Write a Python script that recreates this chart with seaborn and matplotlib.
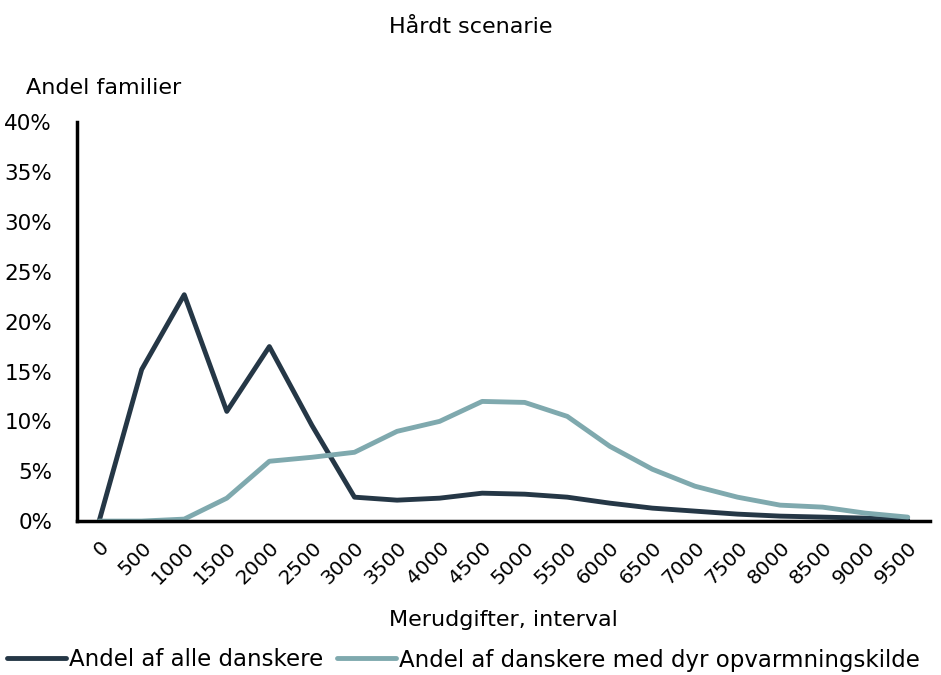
import matplotlib.pyplot as plt
import seaborn as sns
import pandas as pd
from matplotlib.ticker import PercentFormatter

# Merudgifter intervals (kr.)
intervals = [0, 500, 1000, 1500, 2000, 2500, 3000, 3500, 4000, 4500,
             5000, 5500, 6000, 6500, 7000, 7500, 8000, 8500, 9000, 9500]

# Share of families (%)
alle = [0.0, 15.2, 22.7, 11.0, 17.5, 9.6, 2.4, 2.1, 2.3, 2.8,
        2.7, 2.4, 1.8, 1.3, 1.0, 0.7, 0.5, 0.4, 0.3, 0.1]
dyr = [0.0, 0.0, 0.2, 2.3, 6.0, 6.4, 6.9, 9.0, 10.0, 12.0,
       11.9, 10.5, 7.5, 5.2, 3.5, 2.4, 1.6, 1.4, 0.8, 0.4]

label_alle = "Andel af alle danskere"
label_dyr = "Andel af danskere med dyr opvarmningskilde"

df = pd.DataFrame({
    "interval": intervals * 2,
    "andel": alle + dyr,
    "serie": [label_alle] * len(alle) + [label_dyr] * len(dyr),
})

sns.set_theme(style="white")
plt.rcParams['font.family'] = ['DejaVu Sans']
for key in ['text.color', 'axes.labelcolor', 'xtick.color', 'ytick.color']:
    plt.rcParams[key] = 'black'

fig = plt.figure(figsize=(9.41, 6.75), dpi=100)
ax = fig.add_axes([0.082, 0.228, 0.906, 0.591])

sns.lineplot(data=df, x="interval", y="andel", hue="serie",
             palette={label_alle: "#253746", label_dyr: "#7FA9AE"},
             linewidth=3.5, ax=ax, legend=False)

ax.set_xlim(-258, 9758)
ax.set_ylim(0, 40)
ax.set_xticks(intervals)
ax.set_xticklabels([str(v) for v in intervals], rotation=45, ha='right',
                   rotation_mode='anchor', fontsize=14.5)
ax.set_yticks(range(0, 41, 5))
ax.yaxis.set_major_formatter(PercentFormatter(decimals=0))
ax.tick_params(axis='y', labelsize=15.5, length=0, pad=18)
ax.tick_params(axis='x', length=0, pad=12)

for side in ['top', 'right']:
    ax.spines[side].set_visible(False)
for side in ['left', 'bottom']:
    ax.spines[side].set_color('black')
    ax.spines[side].set_linewidth(2.5)

ax.set_xlabel("Merudgifter, interval", fontsize=16, labelpad=16)
ax.set_ylabel("")
fig.text(0.028, 0.87, "Andel familier", fontsize=16, ha='left', va='center')
fig.suptitle("Hårdt scenarie", fontsize=16, y=0.975)

handles = [plt.Line2D([], [], color="#253746", linewidth=3.5),
           plt.Line2D([], [], color="#7FA9AE", linewidth=3.5)]
fig.legend(handles, [label_alle, label_dyr], loc='lower left',
           bbox_to_anchor=(0.0, -0.005), borderaxespad=0.0, borderpad=0.3,
           ncol=2, frameon=False, fontsize=16.5,
           handlelength=2.6, handletextpad=0.1, columnspacing=0.6)

fig.savefig("out.png", dpi=100)
